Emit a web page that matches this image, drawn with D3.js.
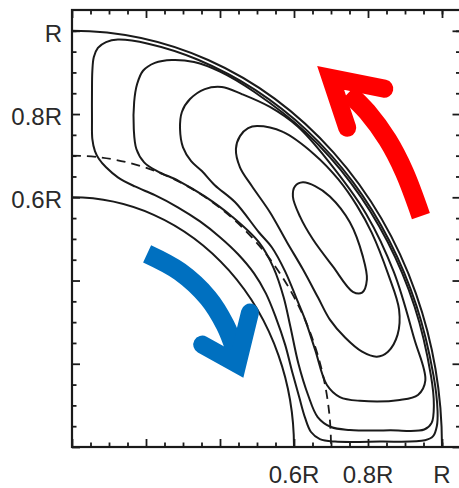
<!DOCTYPE html>
<html>
<head>
<meta charset="utf-8">
<script src="https://cdn.jsdelivr.net/npm/d3@7"></script>
<style>
  html, body { margin: 0; padding: 0; background: #fff; }
  svg { display: block; }
</style>
</head>
<body>
<svg id="chart" width="459" height="488"></svg>
<script>
// Meridional plane, radius in units of R (x: equatorial distance, y: polar distance)
const boundaryRadii = [1.0, 0.6];       // surface and bottom of the flow domain
const interfaceRadius = [0.7];          // dashed interface
const majorTicks = [0, 0.2, 0.4, 0.6, 0.8, 1.0];
const minorTicks = [0.05, 0.1, 0.15, 0.25, 0.3, 0.35, 0.45, 0.5, 0.55, 0.65, 0.7, 0.75, 0.85, 0.9, 0.95, 1.0];
const labelValues = [0.6, 0.8, 1.0];
const labelTexts = ["0.6R", "0.8R", "R"];

// Streamlines of the circulation cell, [x/R, y/R]
const stream1 = [[0.624,0.636],[0.657,0.627],[0.697,0.602],[0.751,0.540],[0.786,0.458],[0.797,0.402],[0.784,0.371],[0.759,0.373],[0.705,0.434],[0.651,0.499],[0.616,0.554],[0.597,0.602],[0.603,0.627]];
const stream2 = [[0.500,0.771],[0.570,0.757],[0.655,0.703],[0.720,0.643],[0.770,0.580],[0.810,0.515],[0.855,0.414],[0.884,0.330],[0.880,0.270],[0.854,0.229],[0.824,0.217],[0.784,0.229],[0.738,0.263],[0.697,0.306],[0.665,0.359],[0.624,0.427],[0.581,0.492],[0.535,0.564],[0.486,0.627],[0.454,0.672],[0.443,0.716],[0.454,0.747],[0.476,0.766]];
const stream3 = [[0.405,0.865],[0.359,0.860],[0.319,0.836],[0.297,0.805],[0.292,0.764],[0.300,0.720],[0.322,0.687],[0.351,0.663],[0.386,0.629],[0.441,0.588],[0.505,0.516],[0.540,0.480],[0.576,0.422],[0.608,0.354],[0.630,0.306],[0.657,0.234],[0.689,0.149],[0.724,0.120],[0.778,0.111],[0.886,0.113],[0.935,0.125],[0.955,0.160],[0.925,0.260],[0.870,0.420],[0.795,0.560],[0.690,0.690],[0.610,0.770],[0.535,0.817],[0.459,0.848]];
const stream4 = [[0.270,0.930],[0.224,0.923],[0.192,0.904],[0.176,0.872],[0.168,0.829],[0.167,0.764],[0.174,0.716],[0.195,0.684],[0.230,0.663],[0.289,0.639],[0.359,0.602],[0.432,0.554],[0.505,0.492],[0.545,0.430],[0.572,0.360],[0.590,0.290],[0.612,0.200],[0.638,0.125],[0.664,0.072],[0.700,0.048],[0.751,0.041],[0.860,0.040],[0.952,0.042],[0.972,0.058],[0.978,0.100],[0.970,0.172],[0.926,0.337],[0.853,0.493],[0.755,0.633],[0.633,0.755],[0.493,0.853],[0.400,0.902],[0.330,0.925]];
const stream5 = [[0.124,0.979],[0.092,0.973],[0.070,0.959],[0.059,0.937],[0.055,0.904],[0.054,0.848],[0.054,0.788],[0.055,0.740],[0.062,0.711],[0.073,0.692],[0.092,0.672],[0.124,0.648],[0.170,0.626],[0.224,0.605],[0.286,0.576],[0.346,0.542],[0.400,0.504],[0.449,0.463],[0.492,0.417],[0.524,0.369],[0.551,0.311],[0.576,0.246],[0.595,0.181],[0.614,0.120],[0.630,0.070],[0.646,0.036],[0.670,0.019],[0.711,0.013],[0.832,0.013],[0.954,0.016],[0.976,0.026],[0.986,0.050],[0.988,0.086],[0.977,0.172],[0.931,0.339],[0.858,0.495],[0.759,0.637],[0.637,0.759],[0.495,0.858],[0.339,0.931],[0.206,0.969]];
const streamlines = [stream1, stream2, stream3, stream4, stream5];

// Flow direction arrows: shaft centreline and arrow-head (barb, tip vertex, barb)
const poleward = { shaft: [[0.943,0.555],[0.898,0.661],[0.853,0.738],[0.798,0.805],[0.747,0.851]],
                   head:  [[0.744,0.767],[0.699,0.887],[0.844,0.861]], color: "#ff0000" };
const equatorward = { shaft: [[0.203,0.464],[0.292,0.421],[0.368,0.358],[0.414,0.293],[0.441,0.233]],
                      head:  [[0.352,0.246],[0.447,0.199],[0.481,0.323]], color: "#0070c0" };

const x = d3.scaleLinear().domain([0, 1.05]).range([72, 460.5]);
const y = d3.scaleLinear().domain([0, 1.05]).range([447, 10]);

const svg = d3.select("#chart");
const ink = "#1a1a1a";

// quarter circles drawn as elliptical arcs through the scales
function quarterArc(r) {
  const rx = x(r) - x(0), ry = y(0) - y(r);
  return `M${x(0)},${y(r)} A${rx},${ry} 0 0 1 ${x(r)},${y(0)}`;
}

const plot = svg.append("g");

plot.selectAll("path.boundary").data(boundaryRadii).join("path")
  .attr("class", "boundary")
  .attr("d", quarterArc)
  .attr("fill", "none").attr("stroke", ink).attr("stroke-width", 2);

plot.selectAll("path.interface").data(interfaceRadius).join("path")
  .attr("class", "interface")
  .attr("d", quarterArc)
  .attr("fill", "none").attr("stroke", ink).attr("stroke-width", 1.8)
  .attr("stroke-dasharray", "9,6");

const loop = d3.line().x(d => x(d[0])).y(d => y(d[1])).curve(d3.curveCatmullRomClosed.alpha(0.5));
plot.selectAll("path.stream").data(streamlines).join("path")
  .attr("class", "stream")
  .attr("d", loop)
  .attr("fill", "none").attr("stroke", ink).attr("stroke-width", 2);

// arrows
const open = d3.line().x(d => x(d[0])).y(d => y(d[1])).curve(d3.curveCatmullRom.alpha(0.5));
const straight = d3.line().x(d => x(d[0])).y(d => y(d[1]));
[poleward, equatorward].forEach(a => {
  const g = svg.append("g");
  g.append("path").attr("d", open(a.shaft))
    .attr("fill", "none").attr("stroke", a.color).attr("stroke-width", 19).attr("stroke-linecap", "butt");
  g.append("path").attr("d", straight(a.head))
    .attr("fill", "none").attr("stroke", a.color).attr("stroke-width", 18)
    .attr("stroke-linecap", "round").attr("stroke-linejoin", "miter").attr("stroke-miterlimit", 6);
});

// frame with inward ticks on all four sides
const axes = svg.append("g");
function addTicks(gen, tr, values, size) {
  const g = axes.append("g").attr("transform", tr)
    .call(gen.tickValues(values).tickSize(-size).tickSizeOuter(0).tickFormat(""));
  g.select(".domain").remove();
  g.selectAll(".tick line").attr("stroke", ink).attr("stroke-width", 1.8);
}
const sides = [
  [() => d3.axisBottom(x), `translate(0,${y(0)})`],
  [() => d3.axisTop(x), `translate(0,${y(1.05)})`],
  [() => d3.axisLeft(y), `translate(${x(0)},0)`],
  [() => d3.axisRight(y), `translate(${x(1.05)},0)`]
];
sides.forEach(([make, tr]) => {
  addTicks(make(), tr, minorTicks, 4.5);
  addTicks(make(), tr, majorTicks, 8);
});

axes.append("rect")
  .attr("x", x(0)).attr("y", y(1.05))
  .attr("width", x(1.05) - x(0)).attr("height", y(0) - y(1.05))
  .attr("fill", "none").attr("stroke", ink).attr("stroke-width", 2.2);

const font = "'Liberation Sans', Arial, sans-serif";
svg.append("g").selectAll("text").data(labelValues).join("text")
  .attr("x", d => x(d)).attr("y", 482.5)
  .attr("text-anchor", "middle")
  .attr("font-family", font).attr("font-size", 24).attr("fill", "#2a2a2a")
  .text((d, i) => labelTexts[i]);

svg.append("g").selectAll("text").data(labelValues).join("text")
  .attr("x", 62).attr("y", d => y(d) + 11)
  .attr("text-anchor", "end")
  .attr("font-family", font).attr("font-size", 24).attr("fill", "#2a2a2a")
  .text((d, i) => labelTexts[i]);
</script>
</body>
</html>
